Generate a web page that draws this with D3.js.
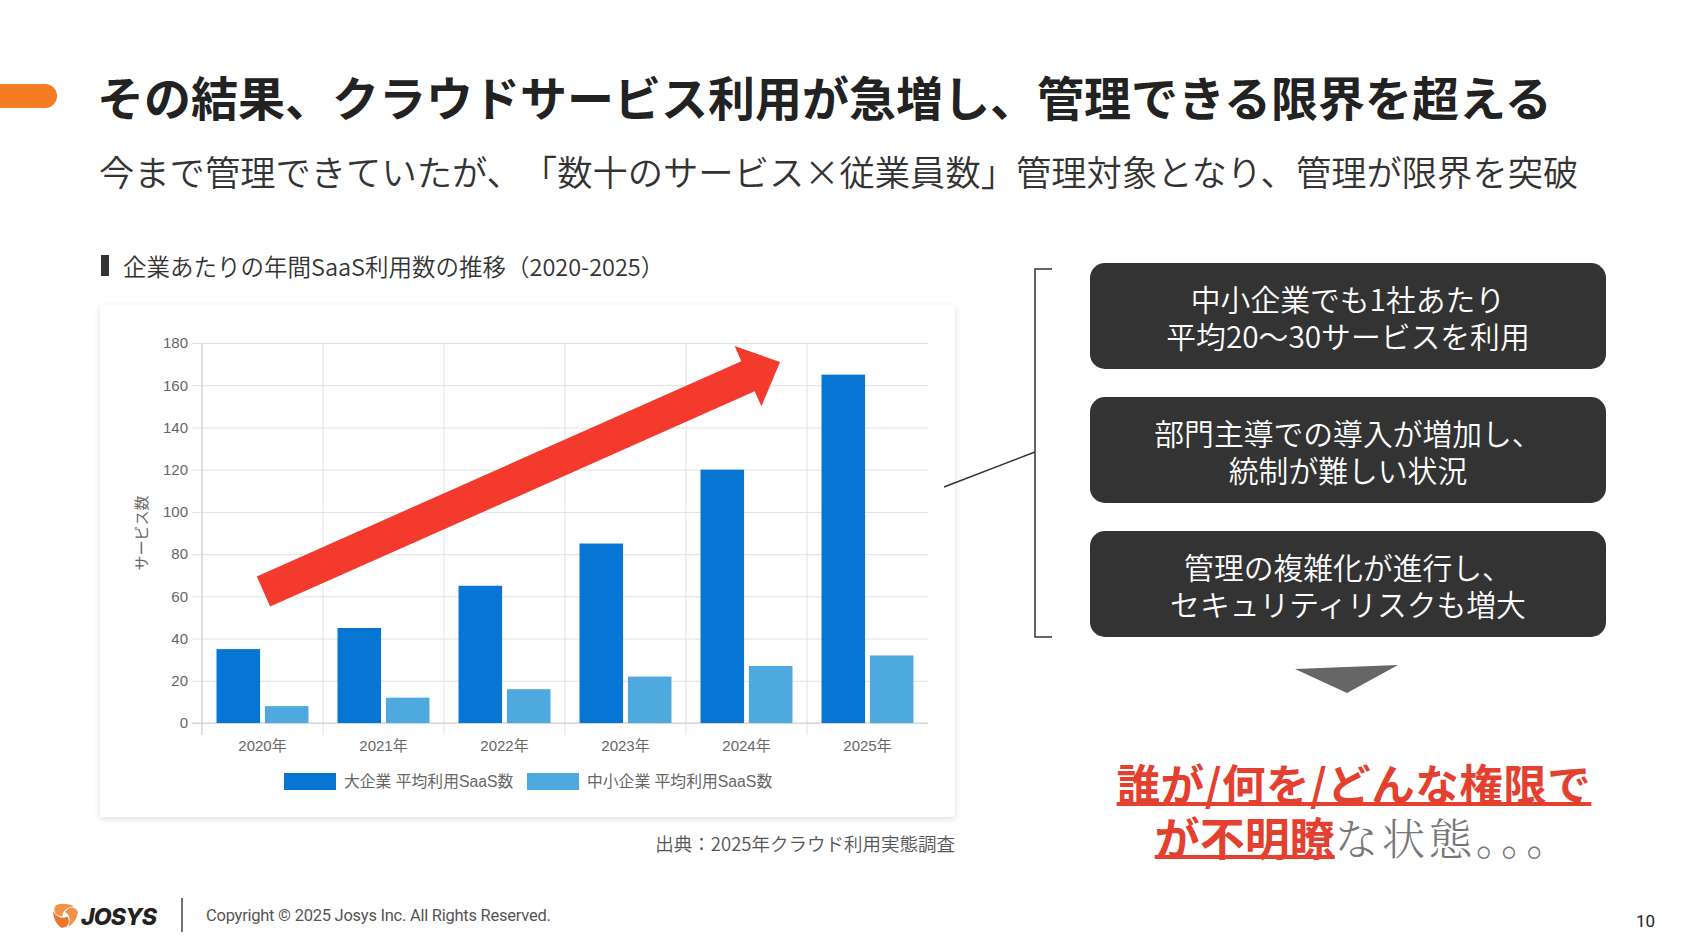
<!DOCTYPE html>
<html lang="ja">
<head>
<meta charset="utf-8">
<script src="https://cdn.jsdelivr.net/npm/d3@7"></script>
<style>
  html, body { margin: 0; padding: 0; background: #ffffff; }
  svg { display: block; }
  svg text { text-spacing-trim: space-all; }
  svg text.trim { text-spacing-trim: normal; }
</style>
</head>
<body>
<svg id="slide" width="1692" height="947"></svg>
<script>
// ---------- data ----------
const years = ["2020年", "2021年", "2022年", "2023年", "2024年", "2025年"];
const seriesNames = ["大企業 平均利用SaaS数", "中小企業 平均利用SaaS数"];
const largeValues = [35, 45, 65, 85, 120, 165];
const smallValues = [8, 12, 16, 22, 27, 32];
const yTicks = [0, 20, 40, 60, 80, 100, 120, 140, 160, 180];
const yTitle = "サービス数";

const slideTitle = "その結果、クラウドサービス利用が急増し、管理できる限界を超える";
const slideSubtitle = "今まで管理できていたが、「数十のサービス×従業員数」管理対象となり、管理が限界を突破";
const chartHeading = "企業あたりの年間SaaS利用数の推移（2020-2025）";
const sourceText = "出典：2025年クラウド利用実態調査";
const boxTexts = [
  ["中小企業でも1社あたり", "平均20～30サービスを利用"],
  ["部門主導での導入が増加し、", "統制が難しい状況"],
  ["管理の複雑化が進行し、", "セキュリティリスクも増大"]
];
const conclusionLine1 = "誰が/何を/どんな権限で";
const conclusionLine2Red = "が不明瞭";
const conclusionLine2Gray = "な状態。。。";
const copyrightText = "Copyright © 2025 Josys Inc. All Rights Reserved.";
const pageNumber = "10";

// ---------- setup ----------
const svg = d3.select("#slide");
const JP = "'Noto Sans CJK JP', 'Noto Sans', sans-serif";
const CHART_FONT = "'Liberation Sans', Arial, 'Noto Sans CJK JP', sans-serif";

const defs = svg.append("defs");
const shadow = defs.append("filter").attr("id", "cardShadow")
  .attr("x", "-5%").attr("y", "-5%").attr("width", "110%").attr("height", "112%");
shadow.append("feDropShadow").attr("dx", 0).attr("dy", 2).attr("stdDeviation", 3)
  .attr("flood-color", "#000").attr("flood-opacity", 0.13);

// ---------- header ----------
svg.append("rect").attr("x", -20).attr("y", 84).attr("width", 77).attr("height", 24)
  .attr("rx", 12).attr("fill", "#f47b22");

svg.append("text").attr("x", 97).attr("y", 95)
  .attr("dominant-baseline", "central")
  .attr("font-family", JP).attr("font-weight", 700).attr("font-size", 47)
  .attr("fill", "#222").text(slideTitle);

svg.append("text").attr("x", 99).attr("y", 170)
  .attr("dominant-baseline", "central")
  .attr("font-family", JP).attr("font-weight", 350).attr("font-size", 35.3)
  .attr("fill", "#333").text(slideSubtitle);

svg.append("rect").attr("x", 101).attr("y", 255).attr("width", 8).attr("height", 21).attr("fill", "#333");
svg.append("text").attr("x", 123).attr("y", 265.5)
  .attr("dominant-baseline", "central")
  .attr("font-family", JP).attr("font-weight", 350).attr("font-size", 23.5).attr("fill", "#333").text(chartHeading);

// ---------- chart card ----------
svg.append("rect").attr("x", 100).attr("y", 305).attr("width", 855).attr("height", 512)
  .attr("rx", 3).attr("fill", "#fff").attr("filter", "url(#cardShadow)");

const plot = { left: 202, right: 928, top: 343, bottom: 723 };

const x0 = d3.scaleBand().domain(years).range([plot.left, plot.right]).paddingInner(0).paddingOuter(0);
const groupW = x0.bandwidth();
const x1 = d3.scaleBand().domain(seriesNames)
  .range([groupW * 0.1, groupW * 0.9]).paddingInner(0.1).paddingOuter(0.05);
const y = d3.scaleLinear().domain([0, 180]).range([plot.bottom, plot.top]);
const color = d3.scaleOrdinal().domain(seriesNames).range(["#0675d3", "#4eaade"]);

const chart = svg.append("g");

// horizontal grid lines (extending 10px left as tick marks)
const yGrid = chart.append("g").attr("transform", `translate(${plot.right},0)`)
  .call(d3.axisLeft(y).tickValues(yTicks).tickSize(plot.right - plot.left + 10).tickFormat(""));
yGrid.select(".domain").remove();
yGrid.selectAll("line").attr("stroke", "#e1e1e1").attr("stroke-width", 1);

// vertical grid lines at category boundaries (extending below axis)
chart.append("g").selectAll("line").data(years).join("line")
  .attr("x1", d => x0(d)).attr("x2", d => x0(d))
  .attr("y1", plot.top).attr("y2", plot.bottom + 12)
  .attr("stroke", "#e1e1e1").attr("stroke-width", 1);

// y axis labels
const yAxis = chart.append("g").attr("transform", `translate(${plot.left - 10},0)`)
  .call(d3.axisLeft(y).tickValues(yTicks).tickSize(0).tickPadding(4));
yAxis.select(".domain").remove();
yAxis.selectAll("text").attr("font-family", CHART_FONT).attr("font-size", 15).attr("fill", "#666");

// axis lines
chart.append("line").attr("x1", plot.left).attr("x2", plot.left)
  .attr("y1", plot.top).attr("y2", plot.bottom + 12).attr("stroke", "#d0d0d0");
chart.append("line").attr("x1", plot.left - 10).attr("x2", plot.right)
  .attr("y1", y(0)).attr("y2", y(0)).attr("stroke", "#d0d0d0");

// x axis labels
const xAxis = chart.append("g").attr("transform", `translate(0,${plot.bottom})`)
  .call(d3.axisBottom(x0).tickSize(0).tickPadding(17));
xAxis.select(".domain").remove();
xAxis.selectAll("text").attr("font-family", CHART_FONT).attr("font-size", 15).attr("fill", "#666");

// y axis title
chart.append("text")
  .attr("transform", `translate(141,${(plot.top + plot.bottom) / 2}) rotate(-90)`)
  .attr("text-anchor", "middle").attr("dominant-baseline", "central")
  .attr("font-family", CHART_FONT).attr("font-size", 15).attr("fill", "#666").text(yTitle);

// bars
const rows = years.map((yr, i) => ({ year: yr, values: [
  { name: seriesNames[0], value: largeValues[i] },
  { name: seriesNames[1], value: smallValues[i] }
]}));
chart.append("g").selectAll("g").data(rows).join("g")
  .attr("transform", d => `translate(${x0(d.year)},0)`)
  .selectAll("rect").data(d => d.values).join("rect")
  .attr("x", d => x1(d.name)).attr("width", x1.bandwidth())
  .attr("y", d => y(d.value)).attr("height", d => y(0) - y(d.value))
  .attr("fill", d => color(d.name));

// legend
const legendItems = [
  { name: seriesNames[0], boxX: 284, textX: 344 },
  { name: seriesNames[1], boxX: 527, textX: 587 }
];
const legend = chart.append("g");
legend.selectAll("rect").data(legendItems).join("rect")
  .attr("x", d => d.boxX).attr("y", 773).attr("width", 52).attr("height", 17)
  .attr("fill", d => color(d.name));
legend.selectAll("text").data(legendItems).join("text")
  .attr("x", d => d.textX).attr("y", 781.5).attr("dominant-baseline", "central")
  .attr("font-family", CHART_FONT).attr("font-size", 15.8).attr("fill", "#666")
  .text(d => d.name);

// trend arrow annotation, anchored in data space (category index, value)
const xi = d3.scaleLinear().domain([0, years.length]).range([plot.left, plot.right]);
const arrowTail = [xi(0.508), y(62.3)];
const arrowTip = [xi(4.777), y(171)];
{
  const dx = arrowTip[0] - arrowTail[0], dy = arrowTip[1] - arrowTail[1];
  const L = Math.hypot(dx, dy);
  const ang = Math.atan2(dy, dx) * 180 / Math.PI;
  const hw = 16.5, headW = 33, headL = 35;
  const pts = [[0, -hw], [L - headL, -hw], [L - headL, -headW], [L, 0], [L - headL, headW], [L - headL, hw], [0, hw]];
  chart.append("path")
    .attr("transform", `translate(${arrowTail[0]},${arrowTail[1]}) rotate(${ang})`)
    .attr("d", d3.line()(pts) + "Z")
    .attr("fill", "#f43a2c");
}

// source
svg.append("text").attr("x", 955).attr("y", 843).attr("text-anchor", "end")
  .attr("dominant-baseline", "central")
  .attr("font-family", JP).attr("font-weight", 350).attr("font-size", 18.5).attr("fill", "#555").text(sourceText);

// ---------- right panel ----------
svg.append("path").attr("d", "M1052,269 H1035 V637 H1052")
  .attr("fill", "none").attr("stroke", "#333").attr("stroke-width", 1.5);
svg.append("line").attr("x1", 944).attr("y1", 487).attr("x2", 1035).attr("y2", 452)
  .attr("stroke", "#333").attr("stroke-width", 1.5);

const boxTop = [263, 397, 531];
const boxes = svg.append("g").selectAll("g").data(boxTexts).join("g")
  .attr("transform", (d, i) => `translate(1090,${boxTop[i]})`);
boxes.append("rect").attr("width", 516).attr("height", 106).attr("rx", 15).attr("fill", "#333333");
const boxText = boxes.append("text")
  .attr("text-anchor", "middle").attr("dominant-baseline", "central")
  .attr("font-family", JP).attr("font-weight", 350).attr("font-size", 29.8).attr("fill", "#fff");
boxText.selectAll("tspan").data(d => d).join("tspan")
  .attr("x", 258).attr("y", (d, j) => 34.5 + j * 37)
  .text(d => d);

svg.append("path").attr("d", "M1295,669 L1398,665 L1347,693 Z").attr("fill", "#666");

// conclusion text
const RED = "#e4402f";
const c1 = svg.append("text").attr("x", 1354).attr("y", 782)
  .attr("text-anchor", "middle").attr("dominant-baseline", "central")
  .attr("font-family", JP).attr("font-weight", 700).attr("font-size", 43.5)
  .attr("letter-spacing", 0.5)
  .attr("fill", RED).text(conclusionLine1);
const b1 = c1.node().getBBox();
svg.append("rect").attr("x", b1.x).attr("y", 802).attr("width", b1.width).attr("height", 4).attr("fill", RED);

{
  const line2Y = 836;
  const red = svg.append("text").attr("y", line2Y).attr("dominant-baseline", "central")
    .attr("font-family", JP).attr("font-weight", 700).attr("font-size", 45)
    .attr("fill", RED).text(conclusionLine2Red);
  const gray = svg.append("text").attr("class", "trim").attr("y", line2Y).attr("dominant-baseline", "central")
    .attr("font-family", "'Noto Serif CJK JP', 'Noto Sans CJK JP', serif")
    .attr("font-weight", 300).attr("font-size", 43.5).attr("letter-spacing", 3.5)
    .attr("fill", "#777").text(conclusionLine2Gray);
  const wR = red.node().getComputedTextLength();
  const wG = gray.node().getComputedTextLength();
  const start = 1364 - (wR + wG) / 2;
  red.attr("x", start);
  gray.attr("x", start + wR);
  svg.append("rect").attr("x", start).attr("y", 855).attr("width", wR).attr("height", 4).attr("fill", RED);
}

// ---------- footer ----------
const logo = svg.append("g").attr("transform", "translate(65,915)");
[0, 120, 240].forEach((r, i) => {
  logo.append("path")
    .attr("transform", `rotate(${r})`)
    .attr("d", "M0,-3 C4,-9 10,-9 13,-3 C12,4 8,9 3,12 C6,6 5,0 0,-3 Z")
    .attr("fill", i === 1 ? "#e8762e" : "#f0924a");
});
svg.append("text").attr("x", 81).attr("y", 925)
  .attr("font-family", "'Inter', 'Roboto', sans-serif").attr("font-weight", 800)
  .attr("font-style", "italic").attr("font-size", 23.2).attr("letter-spacing", -0.9)
  .attr("fill", "#222").text("JOSYS");
svg.append("line").attr("x1", 182).attr("x2", 182).attr("y1", 898).attr("y2", 932)
  .attr("stroke", "#444").attr("stroke-width", 1.5);
svg.append("text").attr("x", 206).attr("y", 915).attr("dominant-baseline", "central")
  .attr("font-family", "'Roboto', 'Inter', sans-serif").attr("font-size", 16.5)
  .attr("letter-spacing", -0.25).attr("fill", "#555").text(copyrightText);
svg.append("text").attr("x", 1655).attr("y", 921).attr("text-anchor", "end")
  .attr("dominant-baseline", "central")
  .attr("font-family", "'Roboto', sans-serif").attr("font-size", 17).attr("fill", "#222").text(pageNumber);
</script>
</body>
</html>
